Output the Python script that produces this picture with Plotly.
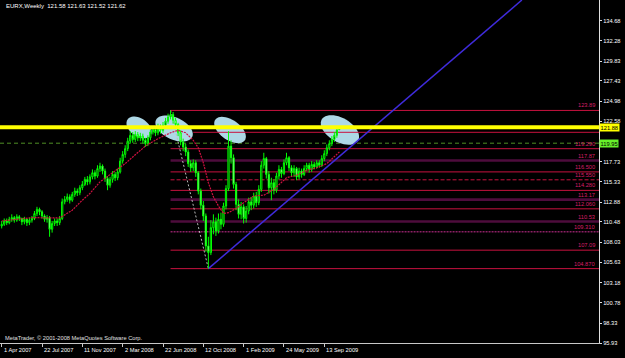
import math
import plotly.graph_objects as go

# ---------------- data ----------------
symbol = "EURX,Weekly"
tick_labels = ["1 Apr 2007", "22 Jul 2007", "11 Nov 2007", "2 Mar 2008", "22 Jun 2008",
               "12 Oct 2008", "1 Feb 2009", "24 May 2009", "13 Sep 2009"]
tick_step = 16  # weekly bars between date labels

opens = [110.0,110.2,110.6,110.4,110.8,111.0,110.7,111.1,110.9,110.5,
         110.8,110.4,110.7,110.9,111.5,112.0,111.7,111.2,110.8,111.0,
         109.6,110.3,110.6,110.4,110.9,112.9,113.2,113.5,113.1,113.8,
         114.2,114.0,114.6,115.0,115.6,115.3,115.9,116.4,116.0,116.9,
         117.2,116.6,115.7,114.9,115.6,116.2,115.8,116.5,117.8,118.6,
         119.3,120.2,120.9,120.4,121.0,120.6,120.8,120.3,119.9,120.6,
         121.3,121.6,121.2,121.9,121.5,122.1,122.6,123.1,123.4,122.7,
         122.2,121.2,120.1,119.5,118.9,117.5,117.0,117.6,116.4,114.2,
         112.5,111.2,107.6,106.8,109.8,110.5,109.4,110.8,110.2,112.4,
         114.5,119.6,118.2,115.0,112.6,111.4,112.3,110.9,111.8,112.9,
         112.5,113.6,112.8,114.4,117.3,118.1,116.2,114.6,115.2,114.3,
         116.0,116.8,116.3,117.6,118.2,117.0,116.4,116.9,115.9,116.6,
         116.2,116.9,117.3,116.8,117.4,117.1,117.6,117.3,118.1,118.7,
         119.4,119.9,120.4,120.9,121.58]
highs = [110.6,110.9,110.9,111.1,111.4,111.2,111.4,111.3,111.0,111.1,
         110.9,111.0,111.2,111.8,112.3,112.2,111.9,111.4,111.3,111.2,
         110.6,110.9,110.9,111.2,113.3,113.6,113.9,113.8,114.1,114.6,
         114.5,114.9,115.4,115.9,116.0,116.2,116.8,116.7,117.3,117.6,
         117.4,116.9,116.0,115.9,116.6,116.5,116.9,118.2,119.0,119.7,
         120.6,121.4,121.3,121.4,121.3,121.2,121.1,120.6,120.9,121.6,
         122.0,121.9,122.3,122.2,122.5,123.0,123.5,123.89,123.7,123.0,
         122.4,121.5,120.5,119.9,119.2,117.9,118.0,117.9,116.6,114.5,
         113.0,111.5,108.7,110.7,111.4,111.0,111.5,111.6,112.8,114.9,
         121.4,120.3,118.6,115.3,113.2,112.9,112.6,112.4,113.4,113.5,
         114.0,114.1,114.9,117.8,118.8,118.3,116.6,115.8,115.6,116.4,
         117.3,117.1,118.0,118.8,118.4,117.3,117.3,117.1,117.0,116.9,
         117.3,117.6,117.6,117.8,117.7,117.9,117.9,118.5,119.1,119.8,
         120.3,120.8,121.3,121.9,121.63]
lows = [109.7,110.0,110.1,110.2,110.5,110.4,110.5,110.6,110.1,110.2,
        110.0,110.1,110.4,110.7,111.2,111.3,110.9,110.5,110.4,108.7,
        109.2,110.0,110.0,110.1,110.7,112.6,112.9,112.7,112.9,113.5,
        113.6,113.7,114.3,114.8,114.9,115.0,115.6,115.6,115.8,116.5,
        116.2,115.3,114.3,114.6,115.2,115.4,115.5,116.3,117.5,118.2,
        119.0,119.9,120.0,120.1,120.2,120.2,119.9,119.5,119.6,120.3,
        121.0,120.8,120.9,121.1,121.2,121.8,122.3,122.8,122.3,121.7,
        120.8,119.7,119.0,118.4,117.1,116.5,116.6,115.9,113.8,112.0,
        110.6,106.9,104.87,106.5,109.0,108.8,109.1,109.6,109.9,112.0,
        114.2,117.5,114.5,111.9,110.9,110.8,110.3,110.4,111.4,111.9,
        112.1,112.3,112.5,114.1,116.9,115.7,113.9,113.1,113.8,114.0,
        115.6,115.8,116.1,117.3,116.6,115.9,115.9,115.5,115.6,115.8,
        116.0,116.6,116.4,116.5,116.8,116.9,117.0,117.1,117.8,118.4,
        119.1,119.6,120.1,120.6,121.52]
closes = [110.2,110.6,110.4,110.8,111.0,110.7,111.1,110.9,110.5,110.8,
          110.4,110.7,110.9,111.5,112.0,111.7,111.2,110.8,111.0,109.6,
          110.3,110.6,110.4,110.9,112.9,113.2,113.5,113.1,113.8,114.2,
          114.0,114.6,115.0,115.6,115.3,115.9,116.4,116.0,116.9,117.2,
          116.6,115.7,114.9,115.6,116.2,115.8,116.5,117.8,118.6,119.3,
          120.2,120.9,120.4,121.0,120.6,120.8,120.3,119.9,120.6,121.3,
          121.6,121.2,121.9,121.5,122.1,122.6,123.1,123.4,122.7,122.2,
          121.2,120.1,119.5,118.9,117.5,117.0,117.6,116.4,114.2,112.5,
          111.2,107.6,106.8,109.8,110.5,109.4,110.8,110.2,112.4,114.5,
          119.6,118.2,115.0,112.6,111.4,112.3,110.9,111.8,112.9,112.5,
          113.6,112.8,114.4,117.3,118.1,116.2,114.6,115.2,114.3,116.0,
          116.8,116.3,117.6,118.2,117.0,116.4,116.9,115.9,116.6,116.2,
          116.9,117.3,116.8,117.4,117.1,117.6,117.3,118.1,118.7,119.4,
          119.9,120.4,120.9,121.55,121.62]

# moving average (bar index, value)
ma_bars = [0, 12, 23, 28, 32, 35, 39, 44, 49, 52, 57, 62, 67, 70, 73, 76, 78, 80,
           82, 84, 86, 88, 90, 93, 96, 100, 104, 108, 113, 117, 121, 125, 129, 134]
ma_vals = [110.6, 111.0, 110.96, 111.9, 113.1, 113.9, 115.3, 116.4, 117.5, 118.3,
           119.6, 120.5, 121.2, 121.5, 121.2, 120.3, 119.4, 117.6, 115.2, 113.5,
           112.4, 111.5, 111.6, 112.1, 112.8, 113.6, 113.7, 114.4, 115.8, 116.1,
           116.7, 117.0, 117.5, 118.9]

price_ticks = [134.68, 132.28, 129.83, 127.43, 124.98, 122.58, 117.73, 115.33,
               112.88, 110.48, 108.03, 105.63, 103.18, 100.78, 98.33, 95.93]

fib_levels = [123.89, 121.26, 119.29, 117.87, 116.50, 115.55, 114.28, 113.17,
              112.06, 110.53, 109.31, 107.09, 104.87]
fib_labels = ["123.89", "", "119.290", "117.87", "116.500", "115.550", "114.280",
              "113.17", "112.060", "110.53", "109.310", "107.09", "104.870"]

yellow_level = 121.88
green_level = 119.95

swing_high = (67, 123.89)   # (bar, price)
swing_low = (82, 104.87)
trend_point = (134, 118.37)

highlight_bars = [54.5, 68.4, 90.6, 134.2]
highlight_prices = [121.84, 121.72, 121.54, 121.54]

# ---------------- layout geometry / styles ----------------
W, H = 625, 358
ML, MR, MT, MB = 0, 26, 0, 15
PW, PH = W - ML - MR, H - MT - MB
X0, X1 = -0.675, 237.0
Y0, Y1 = 95.93, 137.166
PXB = PW / (X1 - X0)
PXP = PH / (Y1 - Y0)

FONT = "Liberation Sans, Arial, sans-serif"
CRIMSON = "#C8123F"
PURPLE = "#4E0C3C"
LABEL_C = "#D81E68"

fib_styles = {
    117.87: dict(color=PURPLE, width=2.6, dash="solid"),
    113.17: dict(color=PURPLE, width=2.6, dash="solid"),
    110.53: dict(color=PURPLE, width=2.6, dash="solid"),
    115.55: dict(color=CRIMSON, width=1, dash="4px,2px"),
    109.31: dict(color="#8A1F63", width=1.4, dash="2px,1px"),
}
fib_start = {121.26: 76}
ellipse_geom = [(14, 9, 35), (20, 11, 25), (18, 10, 35), (21, 12, 30)]  # a px, b px, deg

bars = list(range(len(closes)))

fig = go.Figure()
fig.add_trace(go.Candlestick(
    x=bars, open=opens, high=highs, low=lows, close=closes,
    increasing=dict(line=dict(color="#00FF00", width=1), fillcolor="#000000"),
    decreasing=dict(line=dict(color="#00FF00", width=1), fillcolor="#E8FFE8"),
    whiskerwidth=0, hoverinfo="skip", showlegend=False))
fig.add_trace(go.Scatter(x=ma_bars, y=ma_vals, mode="lines",
                         line=dict(color="#D01040", width=1.2, dash="2px,1px"),
                         hoverinfo="skip", showlegend=False))

shapes = []
# highlight ellipses
for cb, cp, (a, b, deg) in zip(highlight_bars, highlight_prices, ellipse_geom):
    th = math.radians(deg)
    pts = []
    for k in range(48):
        t = 2 * math.pi * k / 48
        dx = a * math.cos(t) * math.cos(th) - b * math.sin(t) * math.sin(th)
        dy = a * math.cos(t) * math.sin(th) + b * math.sin(t) * math.cos(th)
        pts.append((cb + dx / PXB, cp - dy / PXP))
    path = "M " + " L ".join(f"{px:.4f},{py:.4f}" for px, py in pts) + " Z"
    shapes.append(dict(type="path", path=path, xref="x", yref="y",
                       fillcolor="#ADD8E6", line=dict(width=0), layer="below"))

# fibonacci levels
for lvl in fib_levels:
    st = fib_styles.get(lvl, dict(color=CRIMSON, width=1, dash="solid"))
    shapes.append(dict(type="line", xref="x", yref="y",
                       x0=fib_start.get(lvl, swing_high[0]), x1=X1, y0=lvl, y1=lvl,
                       line=st, layer="below"))

# green dashed horizontal line
shapes.append(dict(type="line", xref="paper", yref="y", x0=0, x1=1,
                   y0=green_level, y1=green_level,
                   line=dict(color="#4F8F25", width=1, dash="4px,3px"), layer="below"))

# fibonacci diagonal
shapes.append(dict(type="line", xref="x", yref="y",
                   x0=swing_high[0], y0=swing_high[1], x1=swing_low[0], y1=swing_low[1],
                   line=dict(color="#BBBBBB", width=1, dash="2px,2px"), layer="below"))

# trend ray from swing low through trend_point to top of chart
slope = (trend_point[1] - swing_low[1]) / (trend_point[0] - swing_low[0])
x_end = swing_low[0] + (Y1 - swing_low[1]) / slope
shapes.append(dict(type="line", xref="x", yref="y",
                   x0=swing_low[0], y0=swing_low[1], x1=x_end, y1=Y1,
                   line=dict(color="#3F2BDB", width=1.5), layer="below"))

# yellow horizontal line (on top)
shapes.append(dict(type="line", xref="paper", yref="y", x0=0, x1=1,
                   y0=yellow_level, y1=yellow_level,
                   line=dict(color="#FFFF00", width=4), layer="above"))

annotations = []
for lvl, lab in zip(fib_levels, fib_labels):
    if lab:
        annotations.append(dict(text=lab, xref="paper", x=1, xanchor="right", xshift=-2,
                                yref="y", y=lvl, yanchor="bottom", yshift=0,
                                showarrow=False,
                                font=dict(family=FONT, size=5.7, color=LABEL_C)))

for k, lab in enumerate(tick_labels):
    annotations.append(dict(text=lab, xref="x", x=k * tick_step, xanchor="left", xshift=0,
                            yref="paper", y=0, yanchor="top", yshift=-2,
                            showarrow=False,
                            font=dict(family=FONT, size=5.7, color="#FFFFFF")))

annotations.append(dict(text=f"{yellow_level:.2f}", xref="paper", x=1, xanchor="left",
                        xshift=0, yref="y", y=yellow_level, showarrow=False,
                        bgcolor="#FFFF00", borderpad=0.6,
                        font=dict(family=FONT, size=5.7, color="#000000")))
annotations.append(dict(text=f"{green_level:.2f}", xref="paper", x=1, xanchor="left",
                        xshift=0, yref="y", y=green_level, showarrow=False,
                        bgcolor="#66F02A", borderpad=0.6,
                        font=dict(family=FONT, size=5.7, color="#000000")))

annotations.append(dict(
    text=f"{symbol}  {opens[-1]:.2f} {highs[-1]:.2f} {lows[-1]:.2f} {closes[-1]:.2f}",
    xref="paper", x=0, xanchor="left", xshift=4, yref="paper", y=1, yanchor="top",
    yshift=-1, showarrow=False, font=dict(family=FONT, size=6, color="#FFFFFF")))
annotations.append(dict(
    text="MetaTrader, © 2001-2008 MetaQuotes Software Corp.",
    xref="paper", x=0, xanchor="left", xshift=3, yref="paper", y=0, yanchor="bottom",
    yshift=0, showarrow=False, font=dict(family=FONT, size=5.7, color="#E0E0E0")))

fig.update_layout(
    width=W, height=H, margin=dict(l=ML, r=MR, t=MT, b=MB, pad=0),
    paper_bgcolor="#000000", plot_bgcolor="#000000",
    showlegend=False, shapes=shapes, annotations=annotations,
    xaxis=dict(range=[X0, X1], showgrid=False, zeroline=False, showline=True,
               linecolor="#C8C8C8", linewidth=1, ticks="outside", ticklen=3,
               tickcolor="#C8C8C8", tickvals=[k * tick_step for k in range(len(tick_labels))],
               showticklabels=False, rangeslider=dict(visible=False), fixedrange=True),
    yaxis=dict(range=[Y0, Y1], side="right", showgrid=False, zeroline=False,
               showline=True, mirror=True, linecolor="#E0E0E0", linewidth=1,
               ticks="outside", ticklen=2, tickcolor="#E0E0E0",
               tickvals=price_ticks, ticktext=[f"{v:.2f}" for v in price_ticks],
               tickfont=dict(family=FONT, size=5.7, color="#FFFFFF"), fixedrange=True),
)

fig.write_html("out.html")
